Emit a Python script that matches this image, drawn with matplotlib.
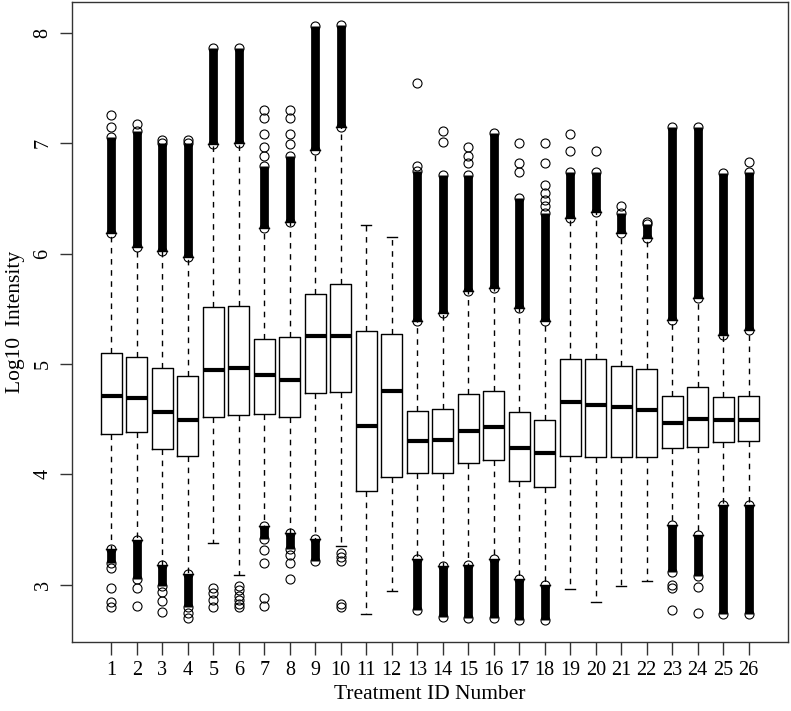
import numpy as np
import matplotlib
matplotlib.use("Agg")
import matplotlib.pyplot as plt

plt.rcParams['font.family'] = ['Liberation Serif', 'DejaVu Serif']

treatments = [str(i) for i in range(1, 27)]

whislo = [3.32, 3.40, 3.18, 3.10, 3.38, 3.09, 3.53, 3.47, 3.41, 3.35, 2.73, 2.94, 3.23,
          3.17, 3.18, 3.23, 3.05, 3.00, 2.96, 2.84, 2.985, 3.03, 3.54, 3.45, 3.725, 3.725]
q1 = [4.365, 4.38, 4.23, 4.17, 4.515, 4.54, 4.545, 4.52, 4.74, 4.745, 3.845, 3.975, 4.01,
      4.01, 4.10, 4.13, 3.94, 3.885, 4.17, 4.157, 4.16, 4.16, 4.24, 4.25, 4.29, 4.30]
med = [4.71, 4.69, 4.56, 4.49, 4.947, 4.963, 4.90, 4.857, 5.255, 5.255, 4.44, 4.757, 4.30,
       4.31, 4.395, 4.43, 4.24, 4.19, 4.655, 4.63, 4.61, 4.585, 4.465, 4.50, 4.49, 4.49]
q3 = [5.10, 5.06, 4.96, 4.89, 5.52, 5.527, 5.228, 5.24, 5.63, 5.72, 5.30, 5.27, 4.57,
      4.594, 4.73, 4.757, 4.567, 4.49, 5.047, 5.047, 4.984, 4.956, 4.71, 4.79, 4.70, 4.71]
whishi = [6.19, 6.06, 6.02, 5.97, 6.99, 7.00, 6.23, 6.29, 6.94, 7.15, 6.26, 6.15, 5.39,
          5.46, 5.66, 5.69, 5.51, 5.385, 6.32, 6.38, 6.19, 6.14, 5.40, 5.60, 5.265, 5.31]

# dense outlier bands (start at whisker end, end value); nan = none
dense_hi_top = [7.06, 7.11, 7.00, 7.00, 7.86, 7.86, 6.79, 6.88, 8.06, 8.07, np.nan, np.nan, 6.75,
                6.71, 6.71, 7.09, 6.50, 6.37, 6.74, 6.74, 6.37, 6.27, 7.15, 7.15, 6.73, 6.74]
dense_lo_bot = [3.20, 3.05, 2.99, 2.80, np.nan, np.nan, 3.41, 3.32, 3.21, np.nan, np.nan, np.nan, 2.77,
                2.71, 2.70, 2.70, 2.68, 2.68, np.nan, np.nan, np.nan, np.nan, 3.11, 3.08, 2.73, 2.73]

# individually visible outliers
sparse_out = [
    [7.15, 7.26, 3.15, 2.97, 2.84, 2.80],
    [7.17, 2.97, 2.81],
    [7.03, 2.93, 2.85, 2.75],
    [7.03, 2.74, 2.70],
    [2.97, 2.92, 2.86, 2.80],
    [2.99, 2.95, 2.90, 2.86, 2.82, 2.80],
    [6.88, 6.97, 7.08, 7.23, 7.30, 3.31, 3.20, 2.88, 2.81],
    [6.99, 7.08, 7.23, 7.30, 3.27, 3.20, 3.05],
    [],
    [3.29, 3.25, 3.21, 2.82, 2.80],
    [],
    [],
    [6.79, 7.55],
    [7.01, 7.11],
    [6.82, 6.88, 6.97],
    [],
    [6.74, 6.82, 7.00],
    [6.43, 6.49, 6.55, 6.62, 6.82, 7.00],
    [6.93, 7.08],
    [6.93],
    [6.43],
    [6.29],
    [3.00, 2.97, 2.77],
    [2.98, 2.74],
    [],
    [6.83],
]

fig = plt.figure(figsize=(7.91, 7.11), dpi=100)
ax = fig.add_axes([72/791, 1 - 642/711, (788 - 72)/791, (642 - 2)/711])

pos = np.arange(1, len(treatments) + 1)
stats = []
for i in range(len(treatments)):
    stats.append(dict(whislo=whislo[i], q1=q1[i], med=med[i], q3=q3[i], whishi=whishi[i],
                      fliers=sparse_out[i]))

ax.bxp(stats, positions=pos, widths=0.84, capwidths=0.4, showfliers=True,
       boxprops=dict(color='black', linewidth=1.0),
       medianprops=dict(color='black', linewidth=3.0, solid_capstyle='butt'),
       whiskerprops=dict(color='black', linewidth=1.0, linestyle=(0, (4, 4))),
       capprops=dict(color='black', linewidth=1.0),
       flierprops=dict(marker='o', markerfacecolor='none', markeredgecolor='black',
                       markersize=6.5, markeredgewidth=0.8, linestyle='none'))

for i, x in enumerate(pos):
    if not np.isnan(dense_hi_top[i]):
        ax.vlines(x, whishi[i], dense_hi_top[i], color='black', linewidth=6.3, zorder=3)
        ax.plot([x, x], [whishi[i], dense_hi_top[i]], 'o', mfc='none', mec='black',
                ms=6.5, mew=0.8, zorder=3)
    if not np.isnan(dense_lo_bot[i]):
        ax.vlines(x, dense_lo_bot[i], whislo[i], color='black', linewidth=6.3, zorder=3)
        ax.plot([x, x], [dense_lo_bot[i], whislo[i]], 'o', mfc='none', mec='black',
                ms=6.5, mew=0.8, zorder=3)

ax.set_xlim(-0.54, 27.54)
ax.set_ylim(2.48, 8.28)
ax.set_xticks(pos)
ax.set_xticklabels(treatments, fontsize=14.5)
ax.set_yticks([3, 4, 5, 6, 7, 8])
ax.set_yticklabels(['3', '4', '5', '6', '7', '8'], fontsize=14.5, rotation=90, va='center')
ax.tick_params(axis='both', length=9, width=1.0, color='#333333', pad=5)
for s in ax.spines.values():
    s.set_color('#333333')
    s.set_linewidth(1.0)
ax.set_xlabel('Treatment ID Number', fontsize=15.5, labelpad=3)
ax.set_ylabel('Log10  Intensity', fontsize=15.5, labelpad=6)

fig.savefig('out.png', dpi=100)
